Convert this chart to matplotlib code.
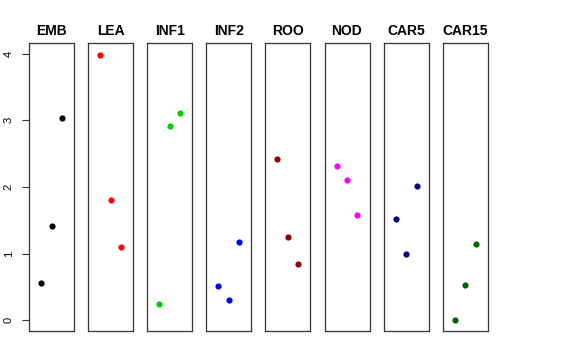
import matplotlib

matplotlib.use("Agg")
import matplotlib.pyplot as plt

plt.rcParams["font.family"] = ["Liberation Sans", "DejaVu Sans"]

# tissues (panels) and their three values each
tissues = ["EMB", "LEA", "INF1", "INF2", "ROO", "NOD", "CAR5", "CAR15"]
colors = ["black", "red", "#00CD00", "blue", "#8B0000", "magenta", "#000080", "#006400"]
positions = [1, 2, 3]
values = [
    [0.56, 1.42, 3.04],
    [3.98, 1.80, 1.10],
    [0.24, 2.92, 3.11],
    [0.52, 0.31, 1.17],
    [2.42, 1.25, 0.84],
    [2.32, 2.10, 1.58],
    [1.52, 0.99, 2.02],
    [0.00, 0.53, 1.14],
]
yticks = [0, 1, 2, 3, 4]

W, H = 576, 360
fig = plt.figure(figsize=(W / 100, H / 100), dpi=100)

top, bottom = 43, 331
pw, step, x0 = 45, 59.1, 29
for i, (name, col, vals) in enumerate(zip(tissues, colors, values)):
    left = x0 + i * step
    ax = fig.add_axes([left / W, 1 - bottom / H, pw / W, (bottom - top) / H])
    ax.scatter(positions, vals, s=20, color=col, zorder=3, linewidths=0)
    ax.set_xlim(-0.16, 4.16)
    ax.set_ylim(-0.16, 4.16)
    ax.set_xticks([])
    for sp in ax.spines.values():
        sp.set_color("#333333")
        sp.set_linewidth(0.9)
    ax.set_title(name, fontsize=10, fontweight="bold", pad=6)
    if i == 0:
        ax.set_yticks(yticks)
        ax.set_yticklabels([str(t) for t in yticks], rotation=90, va="center", fontsize=8)
        ax.tick_params(axis="y", length=5, width=0.8, color="#333333", pad=6)
    else:
        ax.set_yticks([])

fig.savefig("out.png", dpi=100)
